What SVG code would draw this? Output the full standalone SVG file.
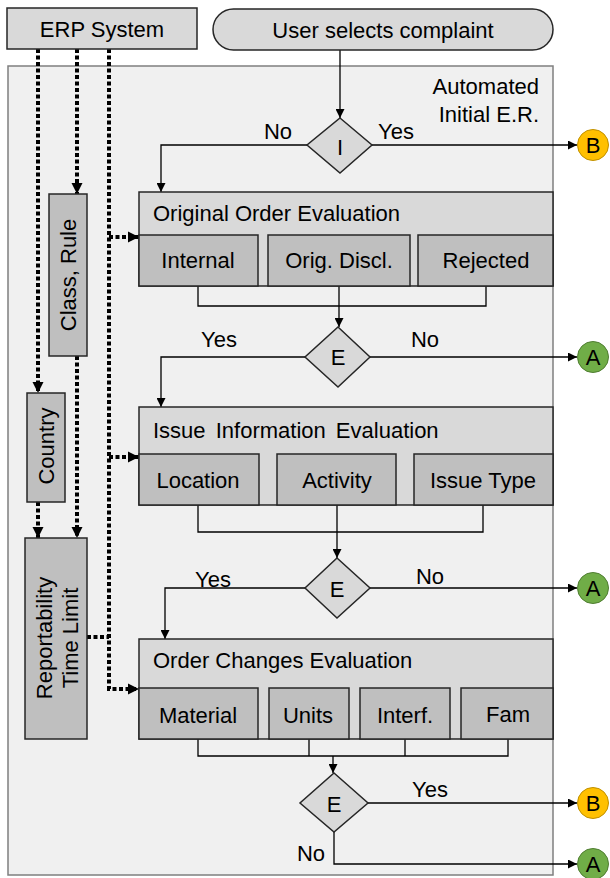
<svg xmlns="http://www.w3.org/2000/svg" width="610" height="878" viewBox="0 0 610 878">
<defs>
<marker id="ah" viewBox="0 0 10 10" refX="10" refY="5" markerWidth="10" markerHeight="9" markerUnits="userSpaceOnUse" orient="auto"><path d="M0,0 L10,5 L0,10 Z" fill="#000"/></marker>
<marker id="dh" viewBox="0 0 10 10" refX="10" refY="5" markerWidth="11" markerHeight="12" markerUnits="userSpaceOnUse" orient="auto"><path d="M0,0 L10,5 L0,10 Z" fill="#000"/></marker>
<style>
text{font-family:"Liberation Sans",Arial,sans-serif;font-size:22px;fill:#000}
.c{text-anchor:middle}
.box{stroke:#262626;stroke-width:1.5}
.hd{fill:#d9d9d9}
.sb{fill:#bfbfbf}
.ln{fill:none;stroke:#000;stroke-width:1.3}
.dot{fill:none;stroke:#000;stroke-width:4;stroke-dasharray:4 2.5}
</style>
</defs>
<rect x="8" y="66" width="545" height="809" fill="#f0f0f0" stroke="#7f7f7f" stroke-width="1.5"/>
<text x="539" y="94" text-anchor="end">Automated</text>
<text x="539" y="122" text-anchor="end">Initial E.R.</text>

<g id="connectors">
<path class="ln" d="M340,50 V118" marker-end="url(#ah)"/>
<path class="ln" d="M307,145 H161 V192" marker-end="url(#ah)"/>
<path class="ln" d="M372,145 H577" marker-end="url(#ah)"/>
<path class="ln" d="M198,286 V306 H486 V286 M339,286 V327" marker-end="url(#ah)"/>
<path class="ln" d="M305,357 H161 V407" marker-end="url(#ah)"/>
<path class="ln" d="M370,357 H577" marker-end="url(#ah)"/>
<path class="ln" d="M198,505 V532 H483 V505 M337,505 V558" marker-end="url(#ah)"/>
<path class="ln" d="M305,588 H165 V639" marker-end="url(#ah)"/>
<path class="ln" d="M370,588 H577" marker-end="url(#ah)"/>
<path class="ln" d="M198,739 V756 H508 V739 M309,739 V756 M405,739 V756 M333,756 V773" marker-end="url(#ah)"/>
<path class="ln" d="M368,803 H577" marker-end="url(#ah)"/>
<path class="ln" d="M334,832 V864 H577" marker-end="url(#ah)"/>
<path class="dot" d="M77,49 V194" marker-end="url(#dh)"/>
<path class="dot" d="M77,356 V538" marker-end="url(#dh)"/>
<path class="dot" d="M38,49 V393" marker-end="url(#dh)"/>
<path class="dot" d="M38,502 V538" marker-end="url(#dh)"/>
<path class="dot" d="M109,49 V689 H139" marker-end="url(#dh)"/>
<path class="dot" d="M109,237 H139" marker-end="url(#dh)"/>
<path class="dot" d="M109,457 H139" marker-end="url(#dh)"/>
<path class="dot" d="M87,637 H109"/>
</g>

<g id="erp"><rect class="box hd" x="7" y="8" width="190" height="41"/><text class="c" x="102" y="37">ERP System</text></g>
<g id="start"><rect class="box hd" x="213" y="9" width="340" height="41" rx="20.5"/><text class="c" x="383" y="38">User selects complaint</text></g>

<g id="dI"><path class="box hd" d="M340,118 L372,145 L340,173 L307,145 Z"/><text class="c" x="340" y="155">I</text></g>
<text class="c" x="278" y="139">No</text>
<text class="c" x="396" y="139">Yes</text>

<g id="orig">
<rect class="box hd" x="139" y="192" width="414" height="94"/>
<text x="153" y="221">Original Order Evaluation</text>
<rect class="box sb" x="139" y="235" width="119" height="51"/><text class="c" x="198" y="268">Internal</text>
<rect class="box sb" x="268" y="235" width="142" height="51"/><text class="c" x="339" y="268">Orig. Discl.</text>
<rect class="box sb" x="418" y="235" width="135" height="51"/><text class="c" x="486" y="268">Rejected</text>
</g>
<g id="dE1"><path class="box hd" d="M338,327 L370,357 L338,387 L305,357 Z"/><text class="c" x="338" y="365">E</text></g>
<text class="c" x="219" y="347">Yes</text>
<text class="c" x="425" y="347">No</text>

<g id="issue">
<rect class="box hd" x="139" y="407" width="414" height="98"/>
<text x="153" y="438" word-spacing="4">Issue Information Evaluation</text>
<rect class="box sb" x="139" y="454" width="120" height="51"/><text class="c" x="198" y="488">Location</text>
<rect class="box sb" x="277" y="454" width="119" height="51"/><text class="c" x="337" y="488">Activity</text>
<rect class="box sb" x="414" y="454" width="139" height="51"/><text class="c" x="483" y="488">Issue Type</text>
</g>
<g id="dE2"><path class="box hd" d="M337,558 L370,588 L337,618 L305,588 Z"/><text class="c" x="337" y="597">E</text></g>
<text class="c" x="213" y="587">Yes</text>
<text class="c" x="430" y="584">No</text>

<g id="changes">
<rect class="box hd" x="139" y="639" width="414" height="100"/>
<text x="153" y="668">Order Changes Evaluation</text>
<rect class="box sb" x="139" y="688" width="119" height="51"/><text class="c" x="198" y="723">Material</text>
<rect class="box sb" x="269" y="688" width="80" height="51"/><text class="c" x="308" y="723">Units</text>
<rect class="box sb" x="360" y="688" width="90" height="51"/><text class="c" x="405" y="723">Interf.</text>
<rect class="box sb" x="461" y="688" width="92" height="51"/><text class="c" x="508" y="722">Fam</text>
</g>
<g id="dE3"><path class="box hd" d="M334,773 L368,803 L334,832 L300,803 Z"/><text class="c" x="334" y="812">E</text></g>
<text class="c" x="430" y="797">Yes</text>
<text class="c" x="311" y="861">No</text>

<g id="classrule"><rect class="box sb" x="49" y="194" width="38" height="162"/><text class="c" transform="translate(76,275) rotate(-90)">Class, Rule</text></g>
<g id="country"><rect class="box sb" x="27" y="393" width="38" height="109"/><text class="c" transform="translate(54,446) rotate(-90)">Country</text></g>
<g id="report"><rect class="box sb" x="25" y="538" width="62" height="201"/><text class="c" transform="translate(52,638) rotate(-90)">Reportability</text><text class="c" transform="translate(78,638) rotate(-90)">Time Limit</text></g>

<g id="B1"><circle cx="593" cy="145" r="15.5" fill="#ffc000" stroke="#c09000" stroke-width="1"/><text class="c" x="593" y="153">B</text></g>
<g id="A1"><circle cx="593" cy="357" r="15.5" fill="#70ad47" stroke="#507e32" stroke-width="1"/><text class="c" x="593" y="365">A</text></g>
<g id="A2"><circle cx="593" cy="588" r="15.5" fill="#70ad47" stroke="#507e32" stroke-width="1"/><text class="c" x="593" y="596">A</text></g>
<g id="B2"><circle cx="593" cy="803" r="15.5" fill="#ffc000" stroke="#c09000" stroke-width="1"/><text class="c" x="593" y="811">B</text></g>
<g id="A3"><circle cx="593" cy="864" r="15.5" fill="#70ad47" stroke="#507e32" stroke-width="1"/><text class="c" x="593" y="872">A</text></g>
</svg>
